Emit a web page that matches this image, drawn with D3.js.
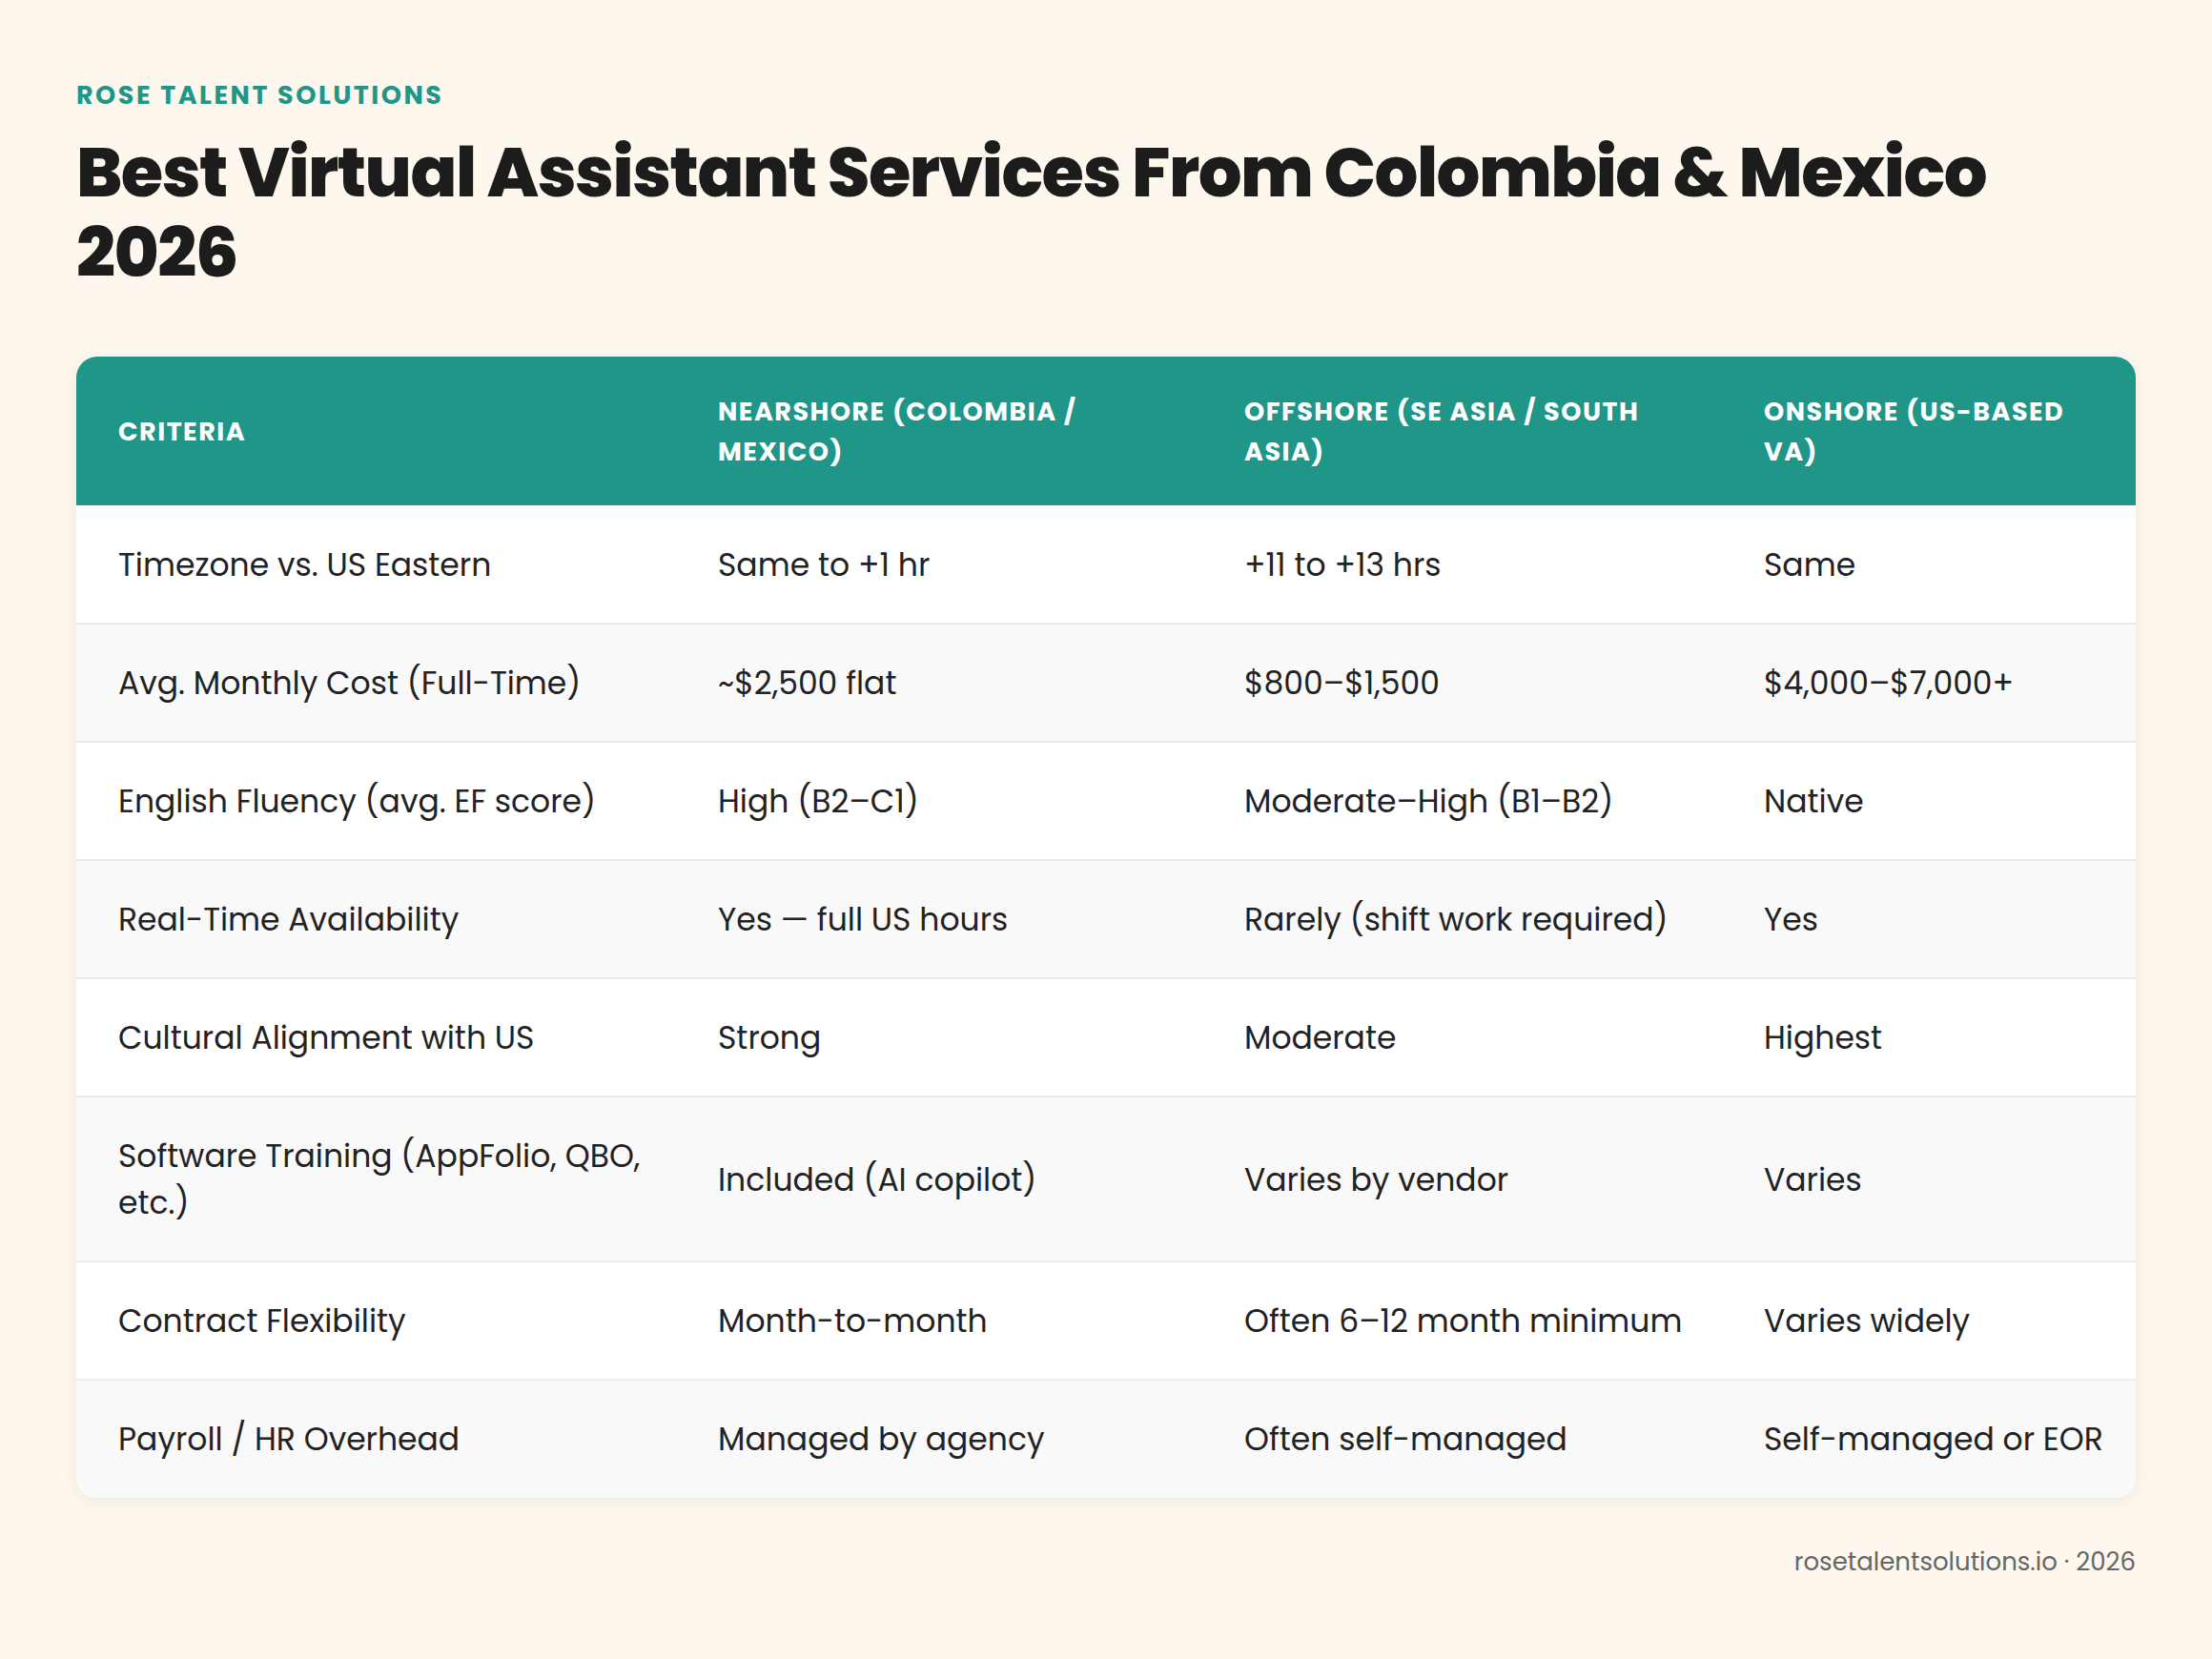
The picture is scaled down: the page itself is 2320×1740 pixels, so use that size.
<!DOCTYPE html>
<html><head><meta charset="utf-8">
<script src="https://cdn.jsdelivr.net/npm/d3@7"></script>
<style>body{margin:0;background:#fdf7ee}</style>
</head><body>
<svg id="chart" width="2320" height="1740"></svg>
<script>
const columns = ['Criteria', 'Nearshore (Colombia / Mexico)', 'Offshore (SE Asia / South Asia)', 'Onshore (US-Based VA)']
const criteria = ['Timezone vs. US Eastern', 'Avg. Monthly Cost (Full-Time)', 'English Fluency (avg. EF score)', 'Real-Time Availability', 'Cultural Alignment with US', 'Software Training (AppFolio, QBO, etc.)', 'Contract Flexibility', 'Payroll / HR Overhead']
const nearshore = ['Same to +1 hr', '~$2,500 flat', 'High (B2–C1)', 'Yes — full US hours', 'Strong', 'Included (AI copilot)', 'Month-to-month', 'Managed by agency']
const offshore = ['+11 to +13 hrs', '$800–$1,500', 'Moderate–High (B1–B2)', 'Rarely (shift work required)', 'Moderate', 'Varies by vendor', 'Often 6–12 month minimum', 'Often self-managed']
const onshore = ['Same', '$4,000–$7,000+', 'Native', 'Yes', 'Highest', 'Varies', 'Varies widely', 'Self-managed or EOR']

const font = "Poppins, Inter, 'Noto Sans', sans-serif"
const teal = '#1f9688'
const svg = d3.select('#chart')

svg.append('text').attr('x', 80).attr('y', 109).text('ROSE TALENT SOLUTIONS')
    .attr('font-family', font).attr('font-weight', 700).attr('font-size', 27)
    .attr('letter-spacing', 2.5).attr('fill', teal)
;['Best Virtual Assistant Services From Colombia & Mexico', '2026'].forEach((t, i) => {
    svg.append('text').attr('x', 80).attr('y', 206 + i * 84).text(t)
        .attr('font-family', font).attr('font-weight', 800).attr('font-size', 72)
        .attr('letter-spacing', -1.5).attr('fill', '#1c1c1c')
})

const tLeft = 80, tRight = 2240, tTop = 374, headH = 156
const colX = [124, 753, 1305, 1850]
const colW = [580, 500, 500, 370]
const rows = criteria.map((c, i) => [c, nearshore[i], offshore[i], onshore[i]])
const rowH = rows.map(r => r[0].length > 34 ? 173 : 124)
const tH = headH + d3.sum(rowH)

const defs = svg.append('defs')
defs.append('clipPath').attr('id', 'clip').append('rect')
    .attr('x', tLeft).attr('y', tTop).attr('width', tRight - tLeft).attr('height', tH).attr('rx', 22)
defs.append('filter').attr('id', 'sh').append('feDropShadow')
    .attr('dx', 0).attr('dy', 4).attr('stdDeviation', 8).attr('flood-color', '#000').attr('flood-opacity', 0.06)
svg.append('rect').attr('x', tLeft).attr('y', tTop).attr('width', tRight - tLeft)
    .attr('height', tH).attr('rx', 22).attr('fill', '#fff').attr('filter', 'url(#sh)')
const table = svg.append('g').attr('clip-path', 'url(#clip)')

function wrap(sel, width, lh) {
    sel.each(function() {
        const t = d3.select(this), words = t.text().split(' ')
        const x = t.attr('x')
        t.text(null)
        let lines = [], line = []
        const probe = t.append('tspan')
        words.forEach(w => {
            line.push(w); probe.text(line.join(' '))
            if (probe.node().getComputedTextLength() > width && line.length > 1) {
                line.pop(); lines.push(line.join(' ')); line = [w]
            }
        })
        lines.push(line.join(' ')); probe.remove()
        const off = -(lines.length - 1) * lh / 2
        lines.forEach((l, i) => t.append('tspan').attr('x', x).attr('dy', i === 0 ? off : lh).text(l))
    })
}

table.append('rect').attr('x', tLeft).attr('y', tTop).attr('width', tRight - tLeft).attr('height', headH).attr('fill', teal)
table.selectAll('.hd').data(columns).join('text')
    .attr('x', (d, i) => colX[i]).attr('y', tTop + headH / 2).attr('dominant-baseline', 'central')
    .attr('font-family', font).attr('font-weight', 700).attr('font-size', 27).attr('letter-spacing', 1.5)
    .attr('fill', '#fff').text(d => d.toUpperCase())
    .each(function(d, i) { wrap(d3.select(this), colW[i] - 40, 42) })

let y = tTop + headH
rows.forEach((r, i) => {
    const h = rowH[i]
    table.append('rect').attr('x', tLeft).attr('y', y).attr('width', tRight - tLeft).attr('height', h)
        .attr('fill', i % 2 ? '#f9f9f9' : '#fff')
    if (i > 0) table.append('line').attr('x1', tLeft).attr('x2', tRight).attr('y1', y).attr('y2', y)
        .attr('stroke', '#ececec').attr('stroke-width', 2)
    table.selectAll(null).data(r).join('text')
        .attr('x', (d, j) => colX[j]).attr('y', y + h / 2).attr('dominant-baseline', 'central')
        .attr('font-family', font).attr('font-size', 33).attr('fill', '#222').text(d => d)
        .each(function(d, j) { wrap(d3.select(this), colW[j], 49) })
    y += h
})

svg.append('text').attr('x', tRight).attr('y', 1647).attr('text-anchor', 'end')
    .attr('font-family', font).attr('font-size', 26).attr('fill', '#666').text('rosetalentsolutions.io · 2026')
</script>
</body></html>
